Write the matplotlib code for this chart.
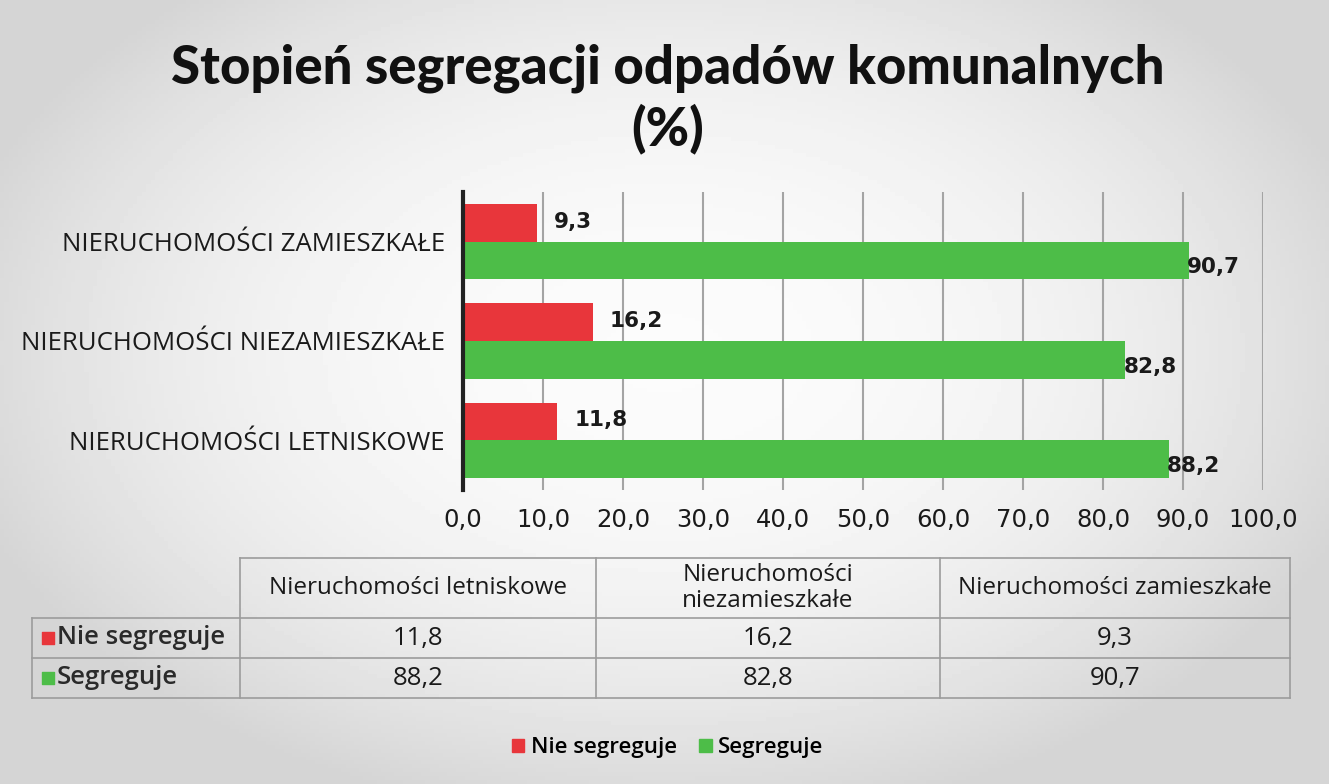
import numpy as np
import matplotlib
matplotlib.use("Agg")
import matplotlib.pyplot as plt

# data
categories = ["Nieruchomości letniskowe", "Nieruchomości niezamieszkałe", "Nieruchomości zamieszkałe"]
header_labels = ["Nieruchomości letniskowe", "Nieruchomości\nniezamieszkałe", "Nieruchomości zamieszkałe"]
series_names = ["Nie segreguje", "Segreguje"]
nie_segreguje = [11.8, 16.2, 9.3]
segreguje = [88.2, 82.8, 90.7]
x_ticks = [0, 10, 20, 30, 40, 50, 60, 70, 80, 90, 100]

RED = "#e8363b"
GREEN = "#4dbd48"
TXT = "#1a1a1a"
TITLE_FONT = "Lato"
FONT = "Open Sans"
LBL_FONT = "DejaVu Sans"


def pl(v):
    return f"{v:.1f}".replace(".", ",")


W, H = 1329, 784
fig = plt.figure(figsize=(W / 100, H / 100), dpi=100)

# scanned-paper background: light vignette
bg = fig.add_axes([0, 0, 1, 1], zorder=-10)
yy, xx = np.mgrid[0:1:200j, 0:1:300j]
r = np.sqrt(((xx - 0.5) / 0.55) ** 2 + ((yy - 0.45) / 0.6) ** 2)
shade = 0.985 - 0.15 * np.clip(r, 0, 1) ** 2.2
bg.imshow(shade, cmap="gray", vmin=0, vmax=1, aspect="auto", extent=[0, 1, 0, 1])
bg.axis("off")

# main bar chart
ax = fig.add_axes([463 / W, 1 - 490 / H, 800 / W, 298 / H])
ax.set_facecolor("none")
idx = np.arange(len(categories))
h = 0.378
ax.barh(idx + h / 2, nie_segreguje, height=h, color=RED, zorder=3)
ax.barh(idx - h / 2, segreguje, height=h, color=GREEN, zorder=3)

for i in idx:
    ax.annotate(pl(nie_segreguje[i]), (nie_segreguje[i], i + h / 2), xytext=(12, 1),
                textcoords="offset points", va="center", ha="left",
                fontsize=15.5, fontweight="bold", family=LBL_FONT, color=TXT, zorder=5)
    ax.annotate(pl(segreguje[i]), (segreguje[i], i - h / 2), xytext=(-1, -5),
                textcoords="offset points", va="center", ha="left",
                fontsize=15.5, fontweight="bold", family=LBL_FONT, color=TXT, zorder=5)

ax.set_xlim(0, 100)
ax.set_ylim(-0.5, 2.5)
ax.set_xticks(x_ticks)
ax.set_xticklabels([pl(v) for v in x_ticks], fontsize=17.5, family=LBL_FONT, color=TXT)
ax.set_yticks(idx)
ax.set_yticklabels([c.upper() for c in categories], fontsize=18.5, family=FONT, color=TXT)
ax.tick_params(axis="x", length=0, pad=13)
ax.tick_params(axis="y", length=0, pad=13)
ax.grid(axis="x", color="#a4a4a4", lw=1.5, zorder=1)
for s in ["top", "right", "bottom"]:
    ax.spines[s].set_visible(False)
ax.spines["left"].set_color("#222222")
ax.spines["left"].set_linewidth(3)
ax.spines["left"].set_zorder(4)

# title
fig.text(668 / W, 1 - 68 / H, "Stopień segregacji odpadów komunalnych", ha="center", va="center",
         fontsize=38, fontweight="black", family=TITLE_FONT, color="#111111")
fig.text(668 / W, 1 - 129 / H, "(%)", ha="center", va="center",
         fontsize=38, fontweight="black", family=TITLE_FONT, color="#111111")

# data table (pixel-coordinate overlay)
lay = fig.add_axes([0, 0, 1, 1], zorder=2)
lay.set_xlim(0, W)
lay.set_ylim(H, 0)
lay.axis("off")
col_x = [240, 596, 940, 1290]
row_y = [558, 618, 658, 698]
left_x = 32
gc = "#9c9c9c"
lay.plot([col_x[0], col_x[-1]], [row_y[0], row_y[0]], color=gc, lw=1.2)
for y in row_y[1:]:
    lay.plot([left_x, col_x[-1]], [y, y], color=gc, lw=1.2)
for x in col_x:
    lay.plot([x, x], [row_y[0], row_y[-1]], color=gc, lw=1.2)
lay.plot([left_x, left_x], [row_y[1], row_y[-1]], color=gc, lw=1.2)

for j, lab in enumerate(header_labels):
    cx = (col_x[j] + col_x[j + 1]) / 2
    lay.text(cx, (row_y[0] + row_y[1]) / 2, lab, ha="center", va="center",
             fontsize=17.5, family=FONT, color=TXT, linespacing=1.1)

rows = [nie_segreguje, segreguje]
colors = [RED, GREEN]
for k, (name, vals, c) in enumerate(zip(series_names, rows, colors)):
    cy = (row_y[k + 1] + row_y[k + 2]) / 2
    lay.scatter([left_x + 16], [cy], marker="s", s=70, color=c, zorder=3)
    lay.text(left_x + 25, cy, name, ha="left", va="center",
             fontsize=18.5, fontweight="semibold", family=FONT, color="#2a2a2a")
    for j, v in enumerate(vals):
        cx = (col_x[j] + col_x[j + 1]) / 2
        lay.text(cx, cy, pl(v), ha="center", va="center",
                 fontsize=18.5, family=FONT, color=TXT)

# legend
handles = [plt.Rectangle((0, 0), 1, 1, color=c) for c in colors]
fig.legend(handles, series_names, loc="center", bbox_to_anchor=(668 / W, 1 - 748 / H),
           ncol=2, frameon=False, prop={"family": FONT, "weight": "semibold", "size": 16},
           handlelength=0.55, handleheight=0.55, handletextpad=0.3, columnspacing=1.0)

fig.savefig("out.png", dpi=100)
